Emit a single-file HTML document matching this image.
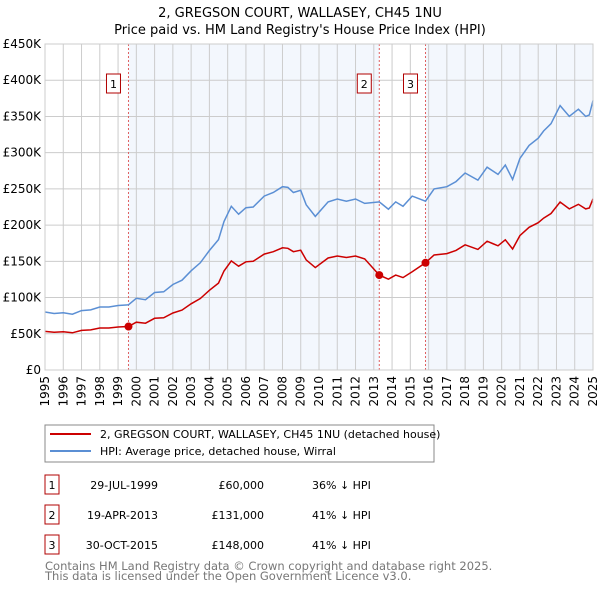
<!DOCTYPE html>
<html><head><meta charset="utf-8"><style>
body{margin:0;background:#fff;font-family:"DejaVu Sans","Liberation Sans",sans-serif}
svg text{font-family:"DejaVu Sans","Liberation Sans",sans-serif}
</style></head><body>
<svg id="c" width="600" height="590" xmlns="http://www.w3.org/2000/svg">
<text x="300" y="17" text-anchor="middle" font-size="13">2, GREGSON COURT, WALLASEY, CH45 1NU</text>
<text x="300" y="34" text-anchor="middle" font-size="13">Price paid vs. HM Land Registry's House Price Index (HPI)</text>
<g id="plot"></g>
<rect x="45" y="425" width="389" height="37" fill="#fff" stroke="#888"/>
<line x1="50" y1="434" x2="91" y2="434" stroke="#cc0000" stroke-width="2"/>
<text x="100" y="438" font-size="11">2, GREGSON COURT, WALLASEY, CH45 1NU (detached house)</text>
<line x1="50" y1="451" x2="91" y2="451" stroke="#5b8fd4" stroke-width="2"/>
<text x="100" y="455" font-size="11">HPI: Average price, detached house, Wirral</text>
<g id="tbl"></g>
<text x="45" y="570" font-size="11.5" fill="#777">Contains HM Land Registry data © Crown copyright and database right 2025.</text>
<text x="45" y="580" font-size="11.5" fill="#777">This data is licensed under the Open Government Licence v3.0.</text>
</svg>
<script>
const hpiYears=[1995,1995.5,1996,1996.5,1997,1997.5,1998,1998.5,1999,1999.57,2000,2000.5,2001,2001.5,2002,2002.5,2003,2003.5,2004,2004.5,2004.8,2005.2,2005.6,2006,2006.4,2007,2007.5,2008,2008.3,2008.6,2009,2009.3,2009.8,2010.5,2011,2011.5,2012,2012.5,2013.3,2013.8,2014.2,2014.6,2015.1,2015.83,2016.3,2017,2017.5,2018,2018.7,2019.2,2019.5,2019.8,2020.2,2020.6,2021,2021.5,2022,2022.3,2022.7,2023.2,2023.7,2024.2,2024.6,2024.8,2025];
const hpiValues=[80,78,79,77,82,83,87,87,89,90,99,97,107,108,118,124,137,148,165,180,205,226,215,224,225,240,245,253,252,245,248,228,212,232,236,233,236,230,232,222,232,226,240,233,250,253,260,272,262,280,275,270,283,263,292,310,320,330,340,365,350,360,350,352,372,365];
const saleYears=[1999.57,2013.3,2015.83];
const salePrices=[60,131,148];
const saleLabels=["1","2","3"];
const saleDates=["29-JUL-1999","19-APR-2013","30-OCT-2015"];
const salePriceText=["£60,000","£131,000","£148,000"];
const salePct=["36% ↓ HPI","41% ↓ HPI","41% ↓ HPI"];
const yTicks=[0,50,100,150,200,250,300,350,400,450];
const xTicks=[];for(let y=1995;y<=2025;y++)xTicks.push(y);

const NS="http://www.w3.org/2000/svg";
const X0=45,X1=593,Y0=370,Y1=44;
const xs=t=>X0+(t-1995)/30*(X1-X0);
const ys=v=>Y0-v/450*(Y0-Y1);
function el(tag,attrs,parent,txt){const e=document.createElementNS(NS,tag);for(const k in attrs)e.setAttribute(k,attrs[k]);if(txt!==undefined)e.textContent=txt;parent.appendChild(e);return e;}
function hpiAt(t){for(let i=0;i<hpiYears.length-1;i++){if(t<=hpiYears[i+1]){const f=(t-hpiYears[i])/(hpiYears[i+1]-hpiYears[i]);return hpiValues[i]+f*(hpiValues[i+1]-hpiValues[i]);}}return hpiValues[hpiValues.length-1];}
const g=document.getElementById('plot');
// shading
const shadeStarts=[saleYears[0],saleYears[2]],shadeEnds=[saleYears[1],2025];
for(let i=0;i<2;i++){const r=el('rect',{x:xs(shadeStarts[i]),y:Y1,width:xs(shadeEnds[i])-xs(shadeStarts[i]),height:Y0-Y1,fill:'#eef3fc',opacity:'0.7'},g);

}
xTicks.forEach(t=>{const l=el('line',{x1:xs(t),x2:xs(t),y1:Y1,y2:Y0,stroke:'#cccccc'},g);


const tx=el('text',{x:0,y:0,'font-size':'12','text-anchor':'end',transform:`translate(${xs(t)+4},${Y0+6}) rotate(-90)`},g,String(t));

});
yTicks.forEach(v=>{const l=el('line',{x1:X0,x2:X1,y1:ys(v),y2:ys(v),stroke:'#cccccc'},g);


const tx=el('text',{x:41,y:ys(v)+4,'font-size':'12','text-anchor':'end'},g,v===0?'£0':'£'+v+'K');

});
// sale markers
saleYears.forEach((t,i)=>{const l=el('line',{x1:xs(t),x2:xs(t),y1:Y1,y2:Y0,stroke:'#e06060','stroke-dasharray':'2,2'},g);


const b=el('rect',{x:xs(t)-22,y:74,width:14,height:19,fill:'#fff',stroke:'#b00000'},g);


const tx=el('text',{x:xs(t)-15,y:88,'font-size':'11','text-anchor':'middle'},g,saleLabels[i]);

});
// hpi line
let d='';hpiYears.forEach((t,i)=>{d+=(i?'L':'M')+xs(t).toFixed(1)+','+ys(hpiValues[i]).toFixed(1);});
const hp=el('path',{d:d,fill:'none',stroke:'#5b8fd4','stroke-width':'1.5'},g);


// property line: HPI scaled at each sale
let pd='';let first=true;
hpiYears.forEach((t,i)=>{let k=0;for(let j=0;j<saleYears.length;j++)if(t>=saleYears[j]-0.001)k=j;
const f=salePrices[k]/hpiAt(saleYears[k]);pd+=(first?'M':'L')+xs(t).toFixed(1)+','+ys(hpiValues[i]*f).toFixed(1);first=false;
if(i<hpiYears.length-1){for(let j=0;j<saleYears.length;j++){if(saleYears[j]>t+0.001&&saleYears[j]<hpiYears[i+1]-0.001){const fa=salePrices[k]/hpiAt(saleYears[k]);pd+='L'+xs(saleYears[j]).toFixed(1)+','+ys(hpiAt(saleYears[j])*fa).toFixed(1)+'L'+xs(saleYears[j]).toFixed(1)+','+ys(salePrices[j]).toFixed(1);k=j;}}}});
const pp=el('path',{d:pd,fill:'none',stroke:'#cc0000','stroke-width':'1.5'},g);


saleYears.forEach((t,i)=>{const c=el('circle',{cx:xs(t),cy:ys(salePrices[i]),r:4,fill:'#cc0000'},g);

});
const ax=el('rect',{x:X0,y:Y1,width:X1-X0,height:Y0-Y1,fill:'none',stroke:'#cccccc'},g);


// table
const tb=document.getElementById('tbl');
saleLabels.forEach((s,i)=>{const y=483+i*30;
const b=el('rect',{x:45,y:y-8,width:14,height:19,fill:'#fff',stroke:'#b00000'},tb);


const a=el('text',{x:52,y:y+6,'font-size':'11','text-anchor':'middle'},tb,s);


const dt=el('text',{x:158,y:y+6,'font-size':'11','text-anchor':'end'},tb,saleDates[i]);


const pr=el('text',{x:264,y:y+6,'font-size':'11','text-anchor':'end'},tb,salePriceText[i]);


const pc=el('text',{x:312,y:y+6,'font-size':'11'},tb,salePct[i]);

});
</script>
</body></html>
